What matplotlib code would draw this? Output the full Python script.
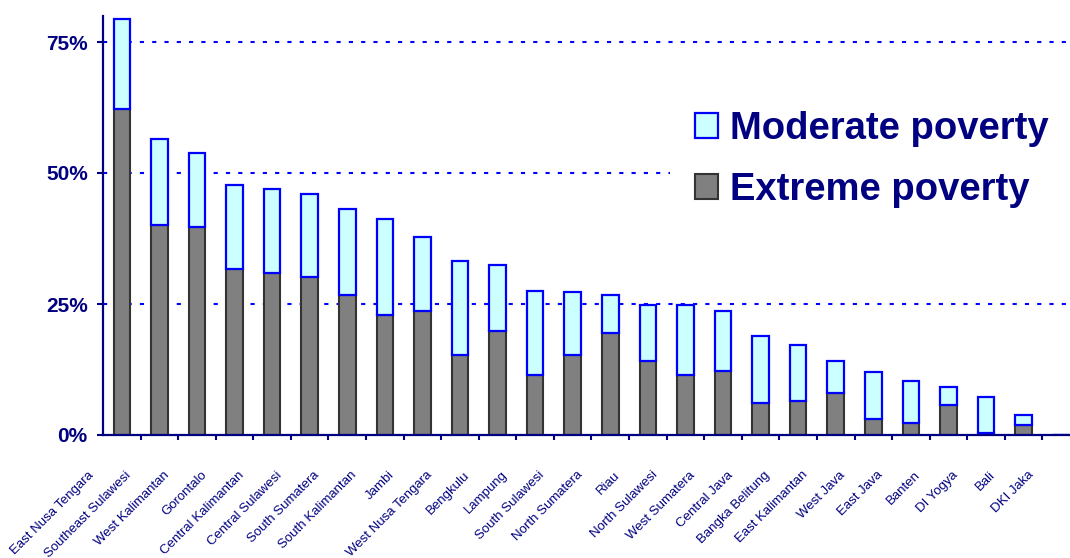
import matplotlib
matplotlib.use("Agg")
import matplotlib.pyplot as plt
import numpy as np
from matplotlib import font_manager
from matplotlib.patches import Rectangle
from matplotlib.transforms import blended_transform_factory, ScaledTranslation

provinces = ["East Nusa Tengara", "Southeast Sulawesi", "West Kalimantan", "Gorontalo",
             "Central Kalimantan", "Central Sulawesi", "South Sumatera", "South Kalimantan",
             "Jambi", "West Nusa Tengara", "Bengkulu", "Lampung", "South Sulawesi",
             "North Sumatera", "Riau", "North Sulawesi", "West Sumatera", "Central Java",
             "Bangka Belitung", "East Kalimantan", "West Java", "East Java", "Banten",
             "DI Yogya", "Bali", "DKI Jaka"]
extreme = [62.2, 40.1, 39.7, 31.7, 30.9, 30.2, 26.7, 22.9, 23.7, 15.3, 19.8, 11.5, 15.3,
           19.4, 14.1, 11.5, 12.2, 6.1, 6.5, 8.1, 3.1, 2.3, 5.7, 0.4, 1.9, 0.0]
total = [79.4, 56.5, 53.9, 47.8, 47.0, 45.9, 43.2, 41.3, 37.8, 33.3, 32.5, 27.5, 27.2,
         26.8, 24.9, 24.9, 23.7, 18.8, 17.2, 14.2, 12.0, 10.4, 9.2, 7.3, 3.9, 0.0]
moderate = [t - e for t, e in zip(total, extreme)]
yticks = [0, 25, 50, 75]
ytick_labels = ["0%", "25%", "50%", "75%"]
series_names = ["Moderate poverty", "Extreme poverty"]

NAVY = "#000080"
avail = {f.name for f in font_manager.fontManager.ttflist}
main_font = "Liberation Sans" if "Liberation Sans" in avail else "DejaVu Sans"

W, H = 1070, 558
fig = plt.figure(figsize=(W / 100, H / 100), dpi=100)
ax = fig.add_axes([103 / W, (H - 435) / H, 977 / W, 419.2 / H])

x = np.arange(len(provinces))
bw = 0.44
b_ext = ax.bar(x, extreme, width=bw, color="#808080", edgecolor="#333333", linewidth=1.5, zorder=3)
b_mod = ax.bar(x, moderate, width=bw, bottom=extreme, color="#CCFFFF", edgecolor="#0000FF",
               linewidth=1.6, zorder=3)

ax.set_xlim(-0.5, len(provinces) - 0.5)
ax.set_ylim(0, 80)

for s in ["top", "right"]:
    ax.spines[s].set_visible(False)
for s in ["left", "bottom"]:
    ax.spines[s].set_color(NAVY)
    ax.spines[s].set_linewidth(1.6)
    ax.spines[s].set_zorder(4)

ax.set_yticks(yticks)
ax.set_yticklabels(ytick_labels, fontsize=15, fontweight="bold", color=NAVY, fontfamily=main_font)
ax.tick_params(axis="y", direction="out", length=4.5, width=1.5, color=NAVY, pad=6.5)

ax.set_xticks([])
ax.set_xticks(np.arange(len(provinces) - 1) + 0.5, minor=True)
ax.tick_params(axis="x", which="minor", direction="out", length=3.5, width=1.5, color=NAVY)

for yv in yticks[1:]:
    ax.axhline(yv, color="#0000FF", linewidth=1.5, linestyle=(0, (2, 3.9)), zorder=1)

trans = blended_transform_factory(ax.transData, fig.transFigure) + \
    ScaledTranslation(-0.34, 0, fig.dpi_scale_trans)
for i, name in enumerate(provinces):
    ax.text(i, (H - 469) / H, name, transform=trans, rotation=45, rotation_mode="anchor",
            ha="right", va="top", fontsize=9.5, color=NAVY, fontfamily=main_font,
            clip_on=False)

# white background behind the legend (hides the gridline there)
fig.patches.append(Rectangle((670 / W, (H - 218) / H), 400 / W, 126 / H,
                             transform=fig.transFigure, facecolor="white",
                             edgecolor="none", zorder=2))

leg = fig.legend([b_mod, b_ext], series_names, loc="upper left",
                 bbox_to_anchor=(672 / W, (H - 88) / H), frameon=False,
                 prop={"family": main_font, "weight": "bold", "size": 27.5},
                 handlelength=0.61, handleheight=0.61, handletextpad=0.32,
                 labelspacing=0.65, borderpad=0.6, borderaxespad=0)
leg.set_zorder(5)
for t in leg.get_texts():
    t.set_color(NAVY)

fig.savefig("out.png", dpi=100)
